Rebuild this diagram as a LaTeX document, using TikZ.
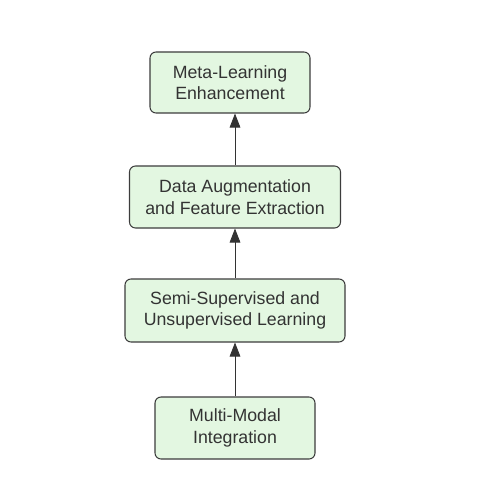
\documentclass[tikz,border=0pt]{standalone}
\usepackage{fontspec}
\setmainfont{Liberation Sans}
\usetikzlibrary{arrows.meta}
\definecolor{boxfill}{HTML}{E3F7E1}
\definecolor{boxline}{HTML}{3C3C3C}
\definecolor{inkgray}{HTML}{333333}
\begin{document}
\begin{tikzpicture}[x=0.75pt, y=-0.75pt,
    stage/.style={draw=boxline, line width=0.8pt, fill=boxfill, rounded corners=4.5pt,
        align=center, inner sep=0pt, text=inkgray, font=\fontsize{13.3}{16}\selectfont},
    link/.style={draw=inkgray, line width=0.6pt, -{Triangle[length=10.5pt, width=8pt]}}]
    \useasboundingbox (0,0) rectangle (488,495);
    \node[stage, minimum width=120pt, minimum height=45.75pt] (meta) at (230,82.5) {Meta-Learning\\Enhancement};
    \node[stage, minimum width=158.25pt, minimum height=46.5pt] (augment) at (235,197) {Data Augmentation\\and Feature Extraction};
    \node[stage, minimum width=165pt, minimum height=47.25pt] (semi) at (235,310.5) {Semi-Supervised and\\Unsupervised Learning};
    \node[stage, minimum width=120pt, minimum height=46.5pt] (modal) at (235,428) {Multi-Modal\\Integration};
    \draw[link] (modal.north) -- (semi.south);
    \draw[link] (semi.north) -- (augment.south);
    \draw[link] (augment.north) -- (augment.north |- meta.south);
\end{tikzpicture}
\end{document}
